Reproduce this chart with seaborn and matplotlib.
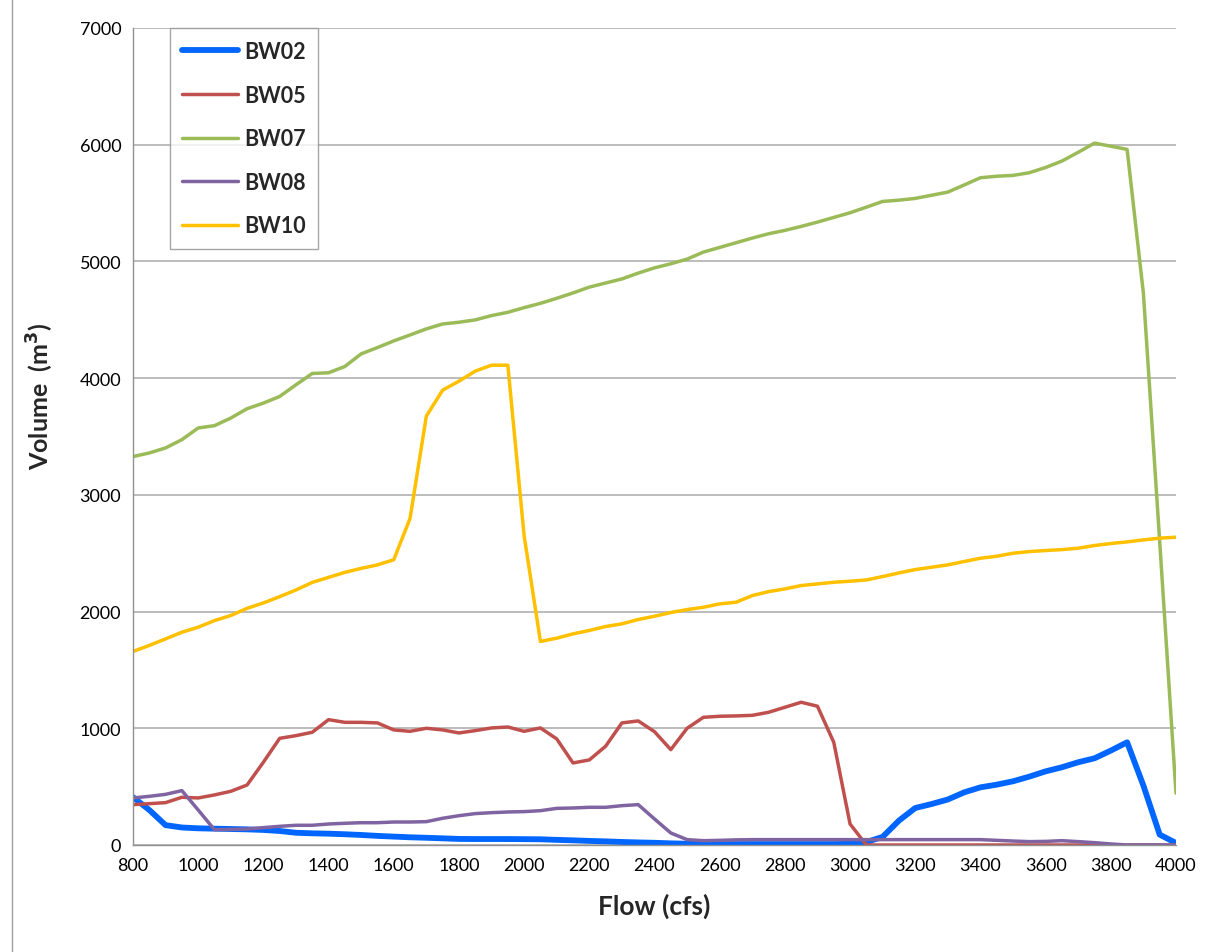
import numpy as np
import pandas as pd
import matplotlib
matplotlib.use("Agg")
import matplotlib.pyplot as plt
import seaborn as sns
from matplotlib.lines import Line2D

# flow steps (cfs)
flow = list(range(800, 4001, 50))

# volumes (m3)
bw02 = [410, 300, 170, 150, 143, 140, 137, 134, 129, 120,
        105, 100, 97, 92, 86, 78, 72, 66, 62, 57,
        52, 51, 51, 51, 50, 49, 44, 40, 35, 31,
        26, 22, 19, 14, 11, 9, 8, 8, 8, 8,
        8, 8, 8, 8, 10, 25, 70, 209, 317, 351,
        390, 451, 494, 517, 546, 586, 631, 666, 709, 743,
        809, 880, 509, 89, 17]
bw05 = [346, 354, 363, 409, 403, 429, 460, 514, 709, 914,
        937, 966, 1074, 1051, 1051, 1046, 986, 974, 1000, 986,
        960, 980, 1003, 1011, 974, 1003, 909, 703, 729, 846,
        1046, 1063, 971, 817, 1000, 1094, 1103, 1106, 1111, 1137,
        1180, 1223, 1189, 880, 180, 0, 0, 0, 0, 0,
        0, 0, 0, 0, 0, 0, 0, 0, 0, 0,
        0, 0, 0, 0, 0]
bw07 = [3328, 3359, 3402, 3473, 3573, 3593, 3658, 3738, 3786, 3843,
        3943, 4040, 4046, 4100, 4208, 4262, 4319, 4370, 4422, 4464,
        4479, 4499, 4536, 4564, 4604, 4641, 4684, 4730, 4780, 4815,
        4850, 4900, 4945, 4980, 5020, 5080, 5120, 5160, 5200, 5237,
        5266, 5300, 5337, 5377, 5417, 5465, 5514, 5525, 5540, 5567,
        5594, 5655, 5717, 5730, 5737, 5760, 5805, 5860, 5935, 6014,
        5987, 5960, 4727, 2600, 444]
bw08 = [403, 417, 434, 466, 300, 131, 134, 137, 149, 160,
        169, 169, 180, 186, 191, 191, 197, 197, 200, 229,
        251, 269, 277, 283, 286, 294, 314, 317, 323, 323,
        337, 346, 223, 103, 46, 37, 40, 44, 46, 46,
        46, 46, 46, 46, 46, 46, 46, 46, 46, 46,
        46, 46, 46, 40, 34, 29, 31, 37, 29, 20,
        9, 0, 0, 0, 0]
bw10 = [1658, 1710, 1766, 1823, 1866, 1923, 1966, 2028, 2074, 2128,
        2185, 2250, 2293, 2336, 2370, 2400, 2444, 2798, 3675, 3897,
        3974, 4060, 4111, 4111, 2650, 1744, 1772, 1809, 1838, 1872,
        1895, 1932, 1960, 1992, 2017, 2037, 2066, 2080, 2137, 2171,
        2194, 2223, 2237, 2251, 2260, 2271, 2300, 2331, 2360, 2380,
        2400, 2429, 2457, 2474, 2500, 2514, 2523, 2531, 2543, 2566,
        2583, 2597, 2614, 2629, 2637]

names = ["BW02", "BW05", "BW07", "BW08", "BW10"]
colors = ["#0066FF", "#C0504D", "#9BBB59", "#8064A2", "#FFC000"]
widths = [4.2, 2.5, 2.5, 2.5, 2.5]

df = pd.DataFrame({"flow": flow, "BW02": bw02, "BW05": bw05,
                   "BW07": bw07, "BW08": bw08, "BW10": bw10})
long = df.melt(id_vars="flow", var_name="site", value_name="volume")

sns.set_style("white")
plt.rcParams['font.family'] = ['Lato', 'DejaVu Sans']

fig = plt.figure(figsize=(12.11, 9.53), dpi=100)
ax = fig.add_axes([133 / 1211, 1 - 846 / 953, (1176 - 133) / 1211, (846 - 29) / 953])

for name, col, lw in zip(names, colors, widths):
    sub = long[long["site"] == name]
    sns.lineplot(data=sub, x="flow", y="volume", color=col, linewidth=lw, ax=ax,
                 legend=False)

ax.set_xlim(800, 4000)
ax.set_ylim(0, 7000)
ax.set_xticks(range(800, 4001, 200))
ax.set_yticks(range(0, 7001, 1000))
ax.yaxis.grid(True, color="#B0B0B0", linewidth=1.2)
ax.xaxis.grid(False)
for s in ["top", "right"]:
    ax.spines[s].set_visible(False)
for s in ["left", "bottom"]:
    ax.spines[s].set_color("#909090")
    ax.spines[s].set_linewidth(1.0)
ax.tick_params(axis="both", direction="out", length=5, width=1, color="#909090",
               labelsize=13, labelcolor="black")
ax.tick_params(axis="x", pad=4)

ax.set_xlabel("Flow (cfs)", fontsize=19, fontweight="bold", labelpad=14)
ax.set_ylabel("Volume  (m$^\\mathbf{3}$)", fontsize=18, fontweight="bold")
ax.yaxis.set_label_coords(-0.074, 0.55)

handles = [Line2D([0], [0], color=c, linewidth=w, solid_capstyle="round")
           for c, w in zip(colors, widths)]
leg = ax.legend(handles, names, loc="upper left", bbox_to_anchor=(0.035, 1.0),
                frameon=True, fancybox=False, edgecolor="#909090",
                prop={"weight": "bold", "size": 15.5}, labelspacing=1.05,
                handlelength=2.6, handletextpad=0.25, borderpad=0.6,
                borderaxespad=0.0)
leg.get_frame().set_linewidth(1.0)

# chart-area border on the left
fig.add_artist(Line2D([12 / 1211, 12 / 1211], [0, 1], color="#A0A0A0",
                      linewidth=1.0, transform=fig.transFigure))

fig.savefig("out.png", dpi=100)
